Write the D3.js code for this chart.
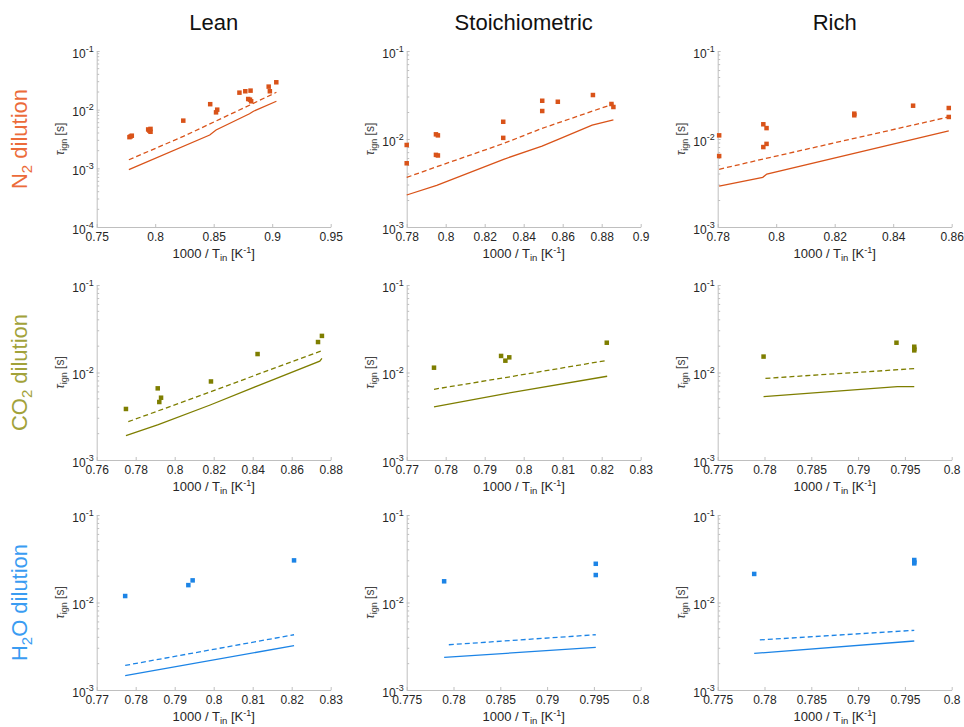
<!DOCTYPE html>
<html>
<head>
<meta charset="utf-8">
<script src="https://cdn.jsdelivr.net/npm/d3@7/dist/d3.min.js"></script>
<style>
    body { margin: 0; background: #fff; }
    svg { display: block; font-family: "Liberation Sans", Arial, Helvetica, sans-serif; }
</style>
</head>
<body>
<svg id="drawing_region"></svg>
<script>
// titles
const columnTitles = ['Lean', 'Stoichiometric', 'Rich'];
const rowLabels = [['N', '2', ' dilution'], ['CO', '2', ' dilution'], ['H', '2', 'O dilution']];

// x tick values for each panel (row by row)
const xTicksN2 = [[0.75, 0.8, 0.85, 0.9, 0.95], [0.78, 0.8, 0.82, 0.84, 0.86, 0.88, 0.9], [0.78, 0.8, 0.82, 0.84, 0.86]];
const xTicksCO2 = [[0.76, 0.78, 0.8, 0.82, 0.84, 0.86, 0.88], [0.77, 0.78, 0.79, 0.8, 0.81, 0.82, 0.83], [0.775, 0.78, 0.785, 0.79, 0.795, 0.8]];
const xTicksH2O = [[0.77, 0.78, 0.79, 0.8, 0.81, 0.82, 0.83], [0.775, 0.78, 0.785, 0.79, 0.795, 0.8], [0.775, 0.78, 0.785, 0.79, 0.795, 0.8]];
const yDomains = [[[1e-4, 1e-1], [1e-3, 1e-1], [1e-3, 1e-1]], [[1e-3, 1e-1], [1e-3, 1e-1], [1e-3, 1e-1]], [[1e-3, 1e-1], [1e-3, 1e-1], [1e-3, 1e-1]]];

// N2 dilution : measured [1000/T, tau], simulation solid / dashed
const n2LeanExp = [[0.778, 0.0034], [0.779, 0.0035], [0.780, 0.0036], [0.794, 0.0046], [0.795, 0.0044], [0.796, 0.0042], [0.796, 0.0047],
    [0.824, 0.0065], [0.847, 0.0124], [0.852, 0.0090], [0.853, 0.0100], [0.872, 0.0195], [0.877, 0.0206], [0.8815, 0.0211],
    [0.8795, 0.0152], [0.881, 0.0148], [0.882, 0.0139], [0.897, 0.0247], [0.898, 0.0206], [0.9035, 0.0293]];
const n2LeanSolid = [[0.7775, 0.00095], [0.8466, 0.0037], [0.852, 0.0045], [0.8806, 0.0085], [0.884, 0.0094], [0.9036, 0.0139]];
const n2LeanDash = [[0.7775, 0.0014], [0.824, 0.0035], [0.881, 0.0120], [0.9036, 0.0198]];

const n2StoichExp = [[0.780, 0.00855], [0.780, 0.0053], [0.795, 0.0113], [0.796, 0.0110], [0.795, 0.0066], [0.796, 0.0065],
    [0.8295, 0.0157], [0.8295, 0.0103], [0.8495, 0.0272], [0.8495, 0.0208], [0.8575, 0.0265], [0.8755, 0.0316],
    [0.885, 0.0250], [0.886, 0.0231]];
const n2StoichSolid = [[0.78, 0.00231], [0.7954, 0.00298], [0.8297, 0.00588], [0.8494, 0.0083], [0.8571, 0.00975], [0.8751, 0.0144], [0.886, 0.0165]];
const n2StoichDash = [[0.78, 0.00366], [0.7954, 0.00484], [0.8297, 0.0089], [0.8494, 0.0132], [0.886, 0.0250]];

const n2RichExp = [[0.7805, 0.0110], [0.7805, 0.0064], [0.7956, 0.0147], [0.7967, 0.0133], [0.7956, 0.0081], [0.7967, 0.0088],
    [0.8267, 0.0194], [0.8267, 0.0186], [0.8468, 0.0239], [0.859, 0.0225], [0.859, 0.0178]];
const n2RichSolid = [[0.7805, 0.00292], [0.7954, 0.00367], [0.7968, 0.0040], [0.859, 0.0124]];
const n2RichDash = [[0.7805, 0.00453], [0.7963, 0.0060], [0.859, 0.0178]];

// CO2 dilution
const co2LeanExp = [[0.775, 0.00383], [0.7913, 0.00659], [0.7921, 0.0046], [0.793, 0.00515], [0.8186, 0.0079], [0.8425, 0.01625], [0.8735, 0.0223], [0.8755, 0.0262]];
const co2LeanSolid = [[0.775, 0.0019], [0.7916, 0.00253], [0.8182, 0.00425], [0.8422, 0.0070], [0.8744, 0.0135], [0.8755, 0.0145]];
const co2LeanDash = [[0.7762, 0.00274], [0.8182, 0.0060], [0.8755, 0.0178]];

const co2StoichExp = [[0.777, 0.01135], [0.7942, 0.01546], [0.7953, 0.01365], [0.7963, 0.0149], [0.8213, 0.0219]];
const co2StoichSolid = [[0.777, 0.00404], [0.7957, 0.00578], [0.8214, 0.00906]];
const co2StoichDash = [[0.777, 0.00643], [0.7957, 0.00881], [0.8214, 0.01377]];

const co2RichExp = [[0.7799, 0.0152], [0.7941, 0.0219], [0.796, 0.0197], [0.796, 0.0186], [0.796, 0.0179]];
const co2RichSolid = [[0.7799, 0.0053], [0.7942, 0.00689], [0.796, 0.0069]];
const co2RichDash = [[0.7801, 0.00857], [0.796, 0.01107]];

// H2O dilution
const h2oLeanExp = [[0.7773, 0.01186], [0.7935, 0.0158], [0.7946, 0.0179], [0.8206, 0.0303]];
const h2oLeanSolid = [[0.7773, 0.00146], [0.8206, 0.00321]];
const h2oLeanDash = [[0.7773, 0.00191], [0.8206, 0.00428]];

const h2oStoichExp = [[0.779, 0.01747], [0.7952, 0.0277], [0.7952, 0.0206]];
const h2oStoichSolid = [[0.779, 0.00236], [0.7952, 0.00307]];
const h2oStoichDash = [[0.7795, 0.00329], [0.7952, 0.00428]];

const h2oRichExp = [[0.7789, 0.0212], [0.796, 0.0306], [0.796, 0.0290], [0.796, 0.0280]];
const h2oRichSolid = [[0.7789, 0.00262], [0.796, 0.00363]];
const h2oRichDash = [[0.7795, 0.00373], [0.796, 0.00481]];

const rows = [
    { color: '#D95319', label: '#EC6B3A', ticks: xTicksN2, panels: [[n2LeanExp, n2LeanSolid, n2LeanDash], [n2StoichExp, n2StoichSolid, n2StoichDash], [n2RichExp, n2RichSolid, n2RichDash]] },
    { color: '#7E7E00', label: '#A2A23A', ticks: xTicksCO2, panels: [[co2LeanExp, co2LeanSolid, co2LeanDash], [co2StoichExp, co2StoichSolid, co2StoichDash], [co2RichExp, co2RichSolid, co2RichDash]] },
    { color: '#1C84E6', label: '#3A9CF2', ticks: xTicksH2O, panels: [[h2oLeanExp, h2oLeanSolid, h2oLeanDash], [h2oStoichExp, h2oStoichSolid, h2oStoichDash], [h2oRichExp, h2oRichSolid, h2oRichDash]] },
];

const config = {
    width: 964,
    height: 727,
    lefts: [96.7, 406.7, 717.7],
    tops: [51, 285, 515],
    heights: [176, 175, 175],
    plot_width: 234,
};

const svg = d3.select('#drawing_region')
    .attr('width', config.width)
    .attr('height', config.height);

const axisColor = '#BFBFBF';
const textColor = '#262626';

// column titles
columnTitles.forEach((t, i) => {
    svg.append('text')
        .attr('x', config.lefts[i] + config.plot_width / 2)
        .attr('y', 30)
        .attr('text-anchor', 'middle')
        .attr('font-size', '22px')
        .attr('fill', '#111')
        .text(t);
});

rows.forEach((row, r) => {
    const top = config.tops[r];
    const h = config.heights[r];

    // row label, rotated
    const lab = svg.append('text')
        .attr('transform', `translate(27, ${top + h / 2}) rotate(-90)`)
        .attr('text-anchor', 'middle')
        .attr('font-size', '22px')
        .attr('fill', row.label);
    lab.append('tspan').text(rowLabels[r][0]);
    lab.append('tspan').attr('dy', 5).attr('font-size', '15px').text(rowLabels[r][1]);
    lab.append('tspan').attr('dy', -5).text(rowLabels[r][2]);

    row.panels.forEach((p, c) => {
        const [expData, solidData, dashData] = p;
        const ticks = row.ticks[c];
        const left = config.lefts[c];
        const w = config.plot_width;

        const g = svg.append('g').attr('transform', `translate(${left}, ${top})`);

        const xscale = d3.scaleLinear()
            .domain([ticks[0], ticks[ticks.length - 1]])
            .range([0, w]);
        const yscale = d3.scaleLog()
            .domain(yDomains[r][c])
            .range([h, 0]);

        // x axis (ticks pointing inwards like matlab)
        const xaxis = d3.axisBottom(xscale)
            .tickValues(ticks)
            .tickFormat(d => String(+d.toFixed(3)))
            .tickSizeInner(-3)
            .tickSizeOuter(0)
            .tickPadding(5);
        const xg = g.append('g')
            .attr('transform', `translate(0, ${h})`)
            .call(xaxis);
        xg.select('.domain').attr('stroke', axisColor);
        xg.selectAll('.tick line').attr('stroke', axisColor);
        xg.selectAll('.tick text').attr('fill', textColor).attr('font-size', '12px');

        // y axis : decades with 10^n labels
        const [y0, y1] = yDomains[r][c];
        const decades = d3.range(Math.round(Math.log10(y0)), Math.round(Math.log10(y1)) + 1).map(e => Math.pow(10, e));
        const yaxis = d3.axisLeft(yscale)
            .tickValues(decades)
            .tickFormat('')
            .tickSizeInner(-3)
            .tickSizeOuter(0)
            .tickPadding(3);
        const yg = g.append('g').call(yaxis);
        yg.select('.domain').attr('stroke', axisColor);
        yg.selectAll('.tick line').attr('stroke', axisColor);
        yg.selectAll('.tick text').each(function (d) {
            const t = d3.select(this)
                .attr('fill', textColor)
                .attr('font-size', '12px')
                .attr('dy', '0.5em');
            t.append('tspan').text('10');
            t.append('tspan').attr('dy', -6).attr('font-size', '9px').text(String(Math.round(Math.log10(d))));
        });

        // minor ticks on log axis
        const minors = [];
        decades.slice(0, -1).forEach(d => { for (let k = 2; k < 10; k++) minors.push(d * k); });
        g.append('g').selectAll('line')
            .data(minors)
            .enter()
            .append('line')
            .attr('x1', 0.5)
            .attr('x2', 2.5)
            .attr('y1', d => yscale(d))
            .attr('y2', d => yscale(d))
            .attr('stroke', axisColor);

        // y label  tau_ign [s]
        const yl = g.append('text')
            .attr('transform', `translate(-33, ${h / 2}) rotate(-90)`)
            .attr('text-anchor', 'middle')
            .attr('font-size', '12px')
            .attr('fill', '#444');
        yl.append('tspan').attr('font-style', 'italic').text('\u03C4');
        yl.append('tspan').attr('dy', 3).attr('font-size', '9px').text('ign');
        yl.append('tspan').attr('dy', -3).text(' [s]');

        // x label 1000 / T_in [K^-1]
        const xl = g.append('text')
            .attr('x', w / 2)
            .attr('y', h + 31)
            .attr('text-anchor', 'middle')
            .attr('font-size', '13px')
            .attr('fill', textColor);
        xl.append('tspan').text('1000 / T');
        xl.append('tspan').attr('dy', 3).attr('font-size', '9.5px').text('in');
        xl.append('tspan').attr('dy', -3).text(' [K');
        xl.append('tspan').attr('dy', -5).attr('font-size', '9px').text('-1');
        xl.append('tspan').attr('dy', 5).text(']');

        const line = d3.line()
            .x(d => xscale(d[0]))
            .y(d => yscale(d[1]));

        // simulation lines
        g.append('path')
            .attr('d', line(solidData))
            .attr('fill', 'none')
            .attr('stroke', row.color)
            .attr('stroke-width', 1.3);
        g.append('path')
            .attr('d', line(dashData))
            .attr('fill', 'none')
            .attr('stroke', row.color)
            .attr('stroke-width', 1.3)
            .attr('stroke-dasharray', '5,3');

        // measured points (small squares)
        const s = 4.5;
        g.selectAll('rect.pt')
            .data(expData)
            .enter()
            .append('rect')
            .attr('class', 'pt')
            .attr('x', d => xscale(d[0]) - s / 2)
            .attr('y', d => yscale(d[1]) - s / 2)
            .attr('width', s)
            .attr('height', s)
            .attr('fill', row.color);
    });
});
</script>
</body>
</html>
